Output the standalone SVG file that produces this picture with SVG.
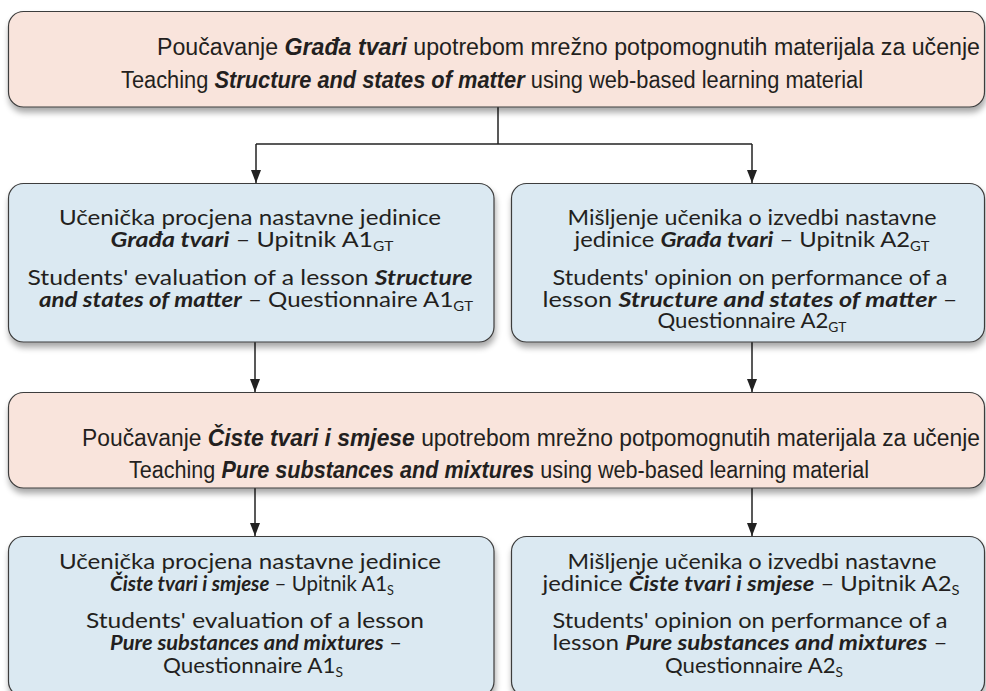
<svg xmlns="http://www.w3.org/2000/svg" width="986" height="691" viewBox="0 0 986 691">
<defs>
<filter id="sh" x="-5%" y="-10%" width="110%" height="130%">
<feGaussianBlur in="SourceAlpha" stdDeviation="3"/>
<feOffset dx="1" dy="5" result="b"/>
<feComponentTransfer><feFuncA type="linear" slope="0.35"/></feComponentTransfer>
<feMerge><feMergeNode/><feMergeNode in="SourceGraphic"/></feMerge>
</filter>
<marker id="ah" viewBox="0 0 13 10" refX="13" refY="5" markerWidth="13" markerHeight="10" markerUnits="userSpaceOnUse" orient="auto">
<path d="M0,0 L13,5 L0,10 Z" fill="#222"/>
</marker>
</defs>
<style>
.pink{fill:#f9e4dc;stroke:#3c3c3c;stroke-width:1.2}
.blue{fill:#dbe9f2;stroke:#3c3c3c;stroke-width:1.2}
.t1{font-family:"Liberation Sans",Arial,sans-serif;font-size:23px;fill:#231f20}
.t2{font-family:Lato,"Open Sans","DejaVu Sans",sans-serif;font-size:21px;fill:#231f20;text-anchor:middle}
.b{font-weight:bold;font-style:italic}
.sub{font-size:13px}
.c{fill:none;stroke:#222;stroke-width:1.5}
</style>

<g id="connectors">
<path class="c" d="M498,107 V144"/>
<path class="c" d="M256,144 H752"/>
<path class="c" d="M256,144 V183" marker-end="url(#ah)"/>
<path class="c" d="M752,144 V183" marker-end="url(#ah)"/>
<path class="c" d="M255,342 V392" marker-end="url(#ah)"/>
<path class="c" d="M752,342 V392" marker-end="url(#ah)"/>
<path class="c" d="M255,488 V536" marker-end="url(#ah)"/>
<path class="c" d="M752,488 V536" marker-end="url(#ah)"/>
</g>

<g id="top">
<rect class="pink" x="8.5" y="11.5" width="976" height="95.5" rx="15" filter="url(#sh)"/>
<text class="t1" x="157" y="55" textLength="823" lengthAdjust="spacingAndGlyphs">Poučavanje <tspan class="b">Građa tvari</tspan> upotrebom mrežno potpomognutih materijala za učenje</text>
<text class="t1" x="121" y="88" textLength="742" lengthAdjust="spacingAndGlyphs">Teaching <tspan class="b">Structure and states of matter</tspan> using web-based learning material</text>
</g>

<g id="a1gt">
<rect class="blue" x="8.5" y="183.5" width="485.5" height="158.5" rx="15" filter="url(#sh)"/>
<text class="t2" x="250" y="225" textLength="382" lengthAdjust="spacingAndGlyphs">Učenička procjena nastavne jedinice</text>
<text class="t2" x="252" y="247" textLength="283" lengthAdjust="spacingAndGlyphs"><tspan class="b">Građa tvari</tspan> – Upitnik A1<tspan class="sub" dy="4">GT</tspan></text>
<text class="t2" x="250" y="285" textLength="445" lengthAdjust="spacingAndGlyphs">Students' evaluation of a lesson <tspan class="b">Structure</tspan></text>
<text class="t2" x="256" y="307" textLength="434" lengthAdjust="spacingAndGlyphs"><tspan class="b">and states of matter</tspan> – Questionnaire A1<tspan class="sub" dy="4">GT</tspan></text>
</g>

<g id="a2gt">
<rect class="blue" x="511.5" y="183.5" width="473" height="158.5" rx="15" filter="url(#sh)"/>
<text class="t2" x="752" y="225" textLength="369" lengthAdjust="spacingAndGlyphs">Mišljenje učenika o izvedbi nastavne</text>
<text class="t2" x="752" y="247" textLength="355" lengthAdjust="spacingAndGlyphs">jedinice <tspan class="b">Građa tvari</tspan> – Upitnik A2<tspan class="sub" dy="4">GT</tspan></text>
<text class="t2" x="750" y="285" textLength="395" lengthAdjust="spacingAndGlyphs">Students' opinion on performance of a</text>
<text class="t2" x="750" y="307" textLength="415" lengthAdjust="spacingAndGlyphs">lesson <tspan class="b">Structure and states of matter</tspan> –</text>
<text class="t2" x="752" y="328" textLength="189" lengthAdjust="spacingAndGlyphs">Questionnaire A2<tspan class="sub" dy="4">GT</tspan></text>
</g>

<g id="middle">
<rect class="pink" x="8.5" y="392.5" width="976" height="95.5" rx="15" filter="url(#sh)"/>
<text class="t1" x="82" y="446" textLength="898" lengthAdjust="spacingAndGlyphs">Poučavanje <tspan class="b">Čiste tvari i smjese</tspan> upotrebom mrežno potpomognutih materijala za učenje</text>
<text class="t1" x="129" y="478" textLength="740" lengthAdjust="spacingAndGlyphs">Teaching <tspan class="b">Pure substances and mixtures</tspan> using web-based learning material</text>
</g>

<g id="a1s">
<rect class="blue" x="8.5" y="536.5" width="485.5" height="160" rx="15" filter="url(#sh)"/>
<text class="t2" x="250" y="569" textLength="382" lengthAdjust="spacingAndGlyphs">Učenička procjena nastavne jedinice</text>
<text class="t2" x="252" y="591" textLength="284" lengthAdjust="spacingAndGlyphs"><tspan class="b">Čiste tvari i smjese</tspan> – Upitnik A1<tspan class="sub" dy="4">S</tspan></text>
<text class="t2" x="255" y="628" textLength="338" lengthAdjust="spacingAndGlyphs">Students' evaluation of a lesson</text>
<text class="t2" x="256" y="650" textLength="292" lengthAdjust="spacingAndGlyphs"><tspan class="b">Pure substances and mixtures</tspan> –</text>
<text class="t2" x="253" y="673" textLength="180" lengthAdjust="spacingAndGlyphs">Questionnaire A1<tspan class="sub" dy="4">S</tspan></text>
</g>

<g id="a2s">
<rect class="blue" x="511.5" y="536.5" width="473" height="160" rx="15" filter="url(#sh)"/>
<text class="t2" x="752" y="569" textLength="369" lengthAdjust="spacingAndGlyphs">Mišljenje učenika o izvedbi nastavne</text>
<text class="t2" x="751" y="591" textLength="417" lengthAdjust="spacingAndGlyphs">jedinice <tspan class="b">Čiste tvari i smjese</tspan> – Upitnik A2<tspan class="sub" dy="4">S</tspan></text>
<text class="t2" x="750" y="628" textLength="395" lengthAdjust="spacingAndGlyphs">Students' opinion on performance of a</text>
<text class="t2" x="750" y="650" textLength="395" lengthAdjust="spacingAndGlyphs">lesson <tspan class="b">Pure substances and mixtures</tspan> –</text>
<text class="t2" x="754" y="673" textLength="178" lengthAdjust="spacingAndGlyphs">Questionnaire A2<tspan class="sub" dy="4">S</tspan></text>
</g>
</svg>
